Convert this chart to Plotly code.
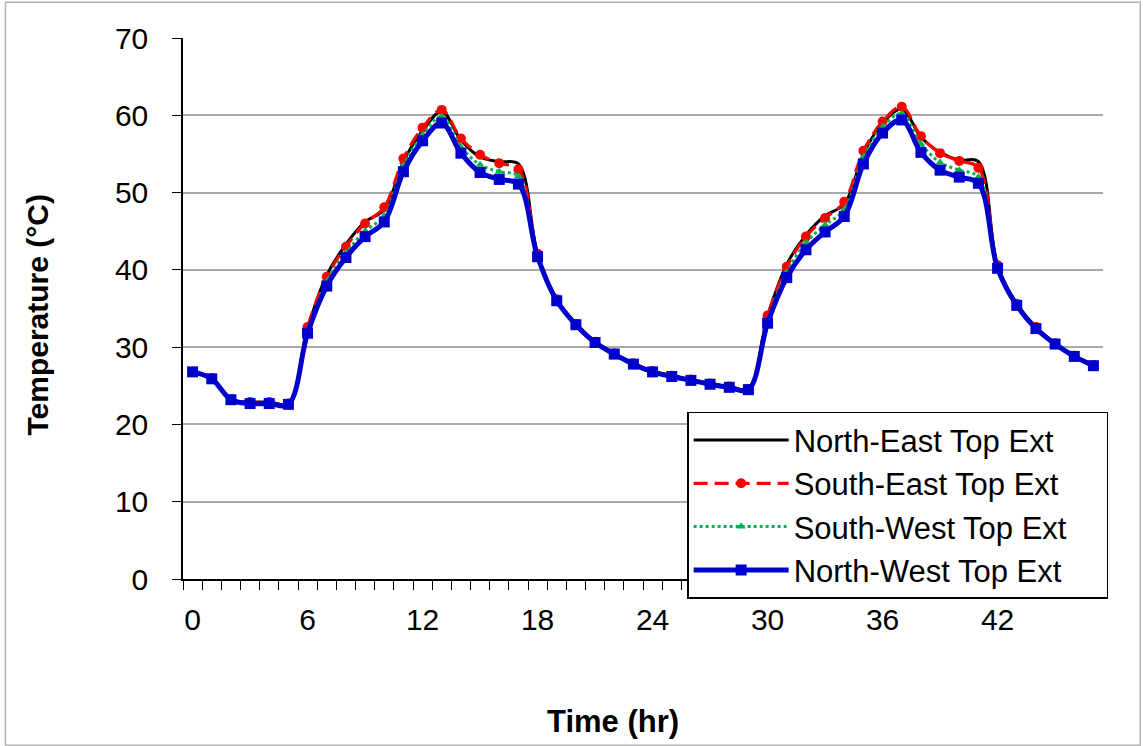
import plotly.graph_objects as go

hours = list(range(48))
tick_hours = [0, 6, 12, 18, 24, 30, 36, 42]
tick_text = ["0", "6", "12", "18", "24", "30", "36", "42"]
series_names = ["North-East Top Ext", "South-East Top Ext", "South-West Top Ext", "North-West Top Ext"]

north_east = [26.8, 26.0, 23.2, 22.9, 22.9, 22.7, 32.4, 39.3, 43.3, 46.2, 47.8, 54.0,
              58.0, 60.5, 56.8, 54.6, 54.0, 53.7, 42.0, 36.2, 33.0, 30.7, 29.2, 27.9,
              26.9, 26.3, 25.8, 25.3, 24.9, 24.6, 34.0, 40.7, 44.5, 47.0, 48.5, 55.0,
              59.0, 60.8, 57.2, 55.2, 54.2, 54.0, 40.4, 35.6, 32.6, 30.5, 28.9, 27.7]
south_east = [26.8, 26.0, 23.2, 22.9, 22.9, 22.7, 32.6, 39.1, 43.0, 46.0, 48.1, 54.4,
              58.4, 60.7, 57.0, 54.9, 53.8, 53.0, 42.1, 36.2, 33.0, 30.7, 29.2, 27.9,
              26.9, 26.3, 25.8, 25.3, 24.9, 24.6, 34.1, 40.4, 44.3, 46.7, 48.8, 55.4,
              59.2, 61.1, 57.3, 55.1, 54.1, 53.2, 40.6, 35.6, 32.6, 30.5, 28.9, 27.7]
south_west = [26.8, 25.9, 23.2, 22.8, 22.8, 22.6, 32.0, 38.5, 42.2, 45.0, 47.0, 53.5,
              57.5, 59.8, 55.9, 53.6, 52.7, 52.1, 41.8, 36.1, 33.0, 30.6, 29.1, 27.8,
              26.8, 26.2, 25.7, 25.2, 24.8, 24.5, 33.5, 39.7, 43.5, 45.8, 47.8, 54.6,
              58.5, 60.2, 56.3, 53.9, 52.9, 52.0, 40.3, 35.5, 32.5, 30.4, 28.8, 27.6]
north_west = [26.8, 25.9, 23.2, 22.7, 22.7, 22.6, 31.8, 37.9, 41.6, 44.3, 46.2, 52.7,
              56.7, 59.0, 55.1, 52.6, 51.7, 51.1, 41.7, 36.0, 32.9, 30.6, 29.1, 27.8,
              26.8, 26.2, 25.7, 25.2, 24.8, 24.5, 33.1, 39.0, 42.6, 44.9, 46.9, 53.7,
              57.7, 59.4, 55.2, 52.9, 52.0, 51.2, 40.2, 35.4, 32.4, 30.4, 28.8, 27.6]

FONT = "Liberation Sans, Arial, Helvetica, sans-serif"
PAD = "\u00a0" * 4  # right padding inside the legend box

fig = go.Figure()
fig.add_trace(go.Scatter(
    x=hours, y=north_east, name=series_names[0] + PAD, mode="lines",
    line=dict(color="#000000", width=3, shape="spline", smoothing=1),
    legendgroup="a"))
fig.add_trace(go.Scatter(
    x=hours, y=south_east, name=series_names[1] + PAD, mode="lines+markers",
    line=dict(color="#ff0000", width=3.2, dash="14px,7px", shape="spline", smoothing=1),
    marker=dict(symbol="circle", size=10, color="#ff0000"),
    legendgroup="b"))
fig.add_trace(go.Scatter(
    x=hours, y=south_west, name=series_names[2] + PAD, mode="lines+markers",
    line=dict(color="#00b050", width=3, dash="dot", shape="spline", smoothing=1),
    marker=dict(symbol="triangle-up", size=8, color="#00b050"),
    legendgroup="c"))
fig.add_trace(go.Scatter(
    x=hours, y=north_west, name=series_names[3] + PAD, mode="lines+markers",
    line=dict(color="#0000cc", width=5, shape="spline", smoothing=1),
    marker=dict(symbol="square", size=11, color="#0000cc"),
    legendgroup="d"))

fig.update_layout(
    width=1143, height=746,
    margin=dict(l=183, r=40, t=38, b=167),
    paper_bgcolor="white", plot_bgcolor="white",
    font=dict(family=FONT, size=30, color="black"),
    showlegend=True,
    legend=dict(
        x=0.548, y=0.309, xanchor="left", yanchor="top",
        bgcolor="white", bordercolor="black", borderwidth=1.5,
        font=dict(family=FONT, size=31, color="black"),
        traceorder="grouped", tracegroupgap=0, itemwidth=95,
    ),
    xaxis=dict(
        range=[-0.5, 47.5], tickmode="array", tickvals=tick_hours, ticktext=tick_text,
        ticks="outside", ticklen=9, tickcolor="rgba(0,0,0,0)",
        ticklabelstandoff=4,
        showgrid=False, zeroline=False, showline=True, linecolor="black", linewidth=1.5,
        minor=dict(tickmode="array", tickvals=[k - 0.5 for k in range(49)],
                   ticks="outside", ticklen=9, tickcolor="black", tickwidth=1.2, showgrid=False),
        tickfont=dict(family=FONT, size=30),
    ),
    yaxis=dict(
        range=[0, 70], tickmode="array", tickvals=list(range(0, 71, 10)),
        ticks="outside", ticklen=9, tickcolor="black", tickwidth=1.2,
        ticklabelstandoff=18,
        showgrid=True, gridcolor="#aaaaaa", gridwidth=1.5,
        zeroline=False, showline=True, linecolor="black", linewidth=1.5,
        tickfont=dict(family=FONT, size=30),
    ),
    annotations=[
        dict(text="<b>Time (hr)</b>", xref="paper", yref="paper", x=0.467, y=-0.264,
             xanchor="center", yanchor="middle", showarrow=False,
             font=dict(family=FONT, size=31, color="black")),
        dict(text="<b>Temperature (°C)</b>", xref="paper", yref="paper", x=-0.1576, y=0.487,
             xanchor="center", yanchor="middle", showarrow=False, textangle=-90,
             font=dict(family=FONT, size=30, color="black")),
    ],
    shapes=[dict(type="rect", xref="paper", yref="paper",
                 x0=-0.193, x1=1.0405, y0=-0.3075, y1=1.066,
                 line=dict(color="#b3b3b3", width=1.5), fillcolor="rgba(0,0,0,0)", layer="below")],
)

fig.write_html("out.html")
